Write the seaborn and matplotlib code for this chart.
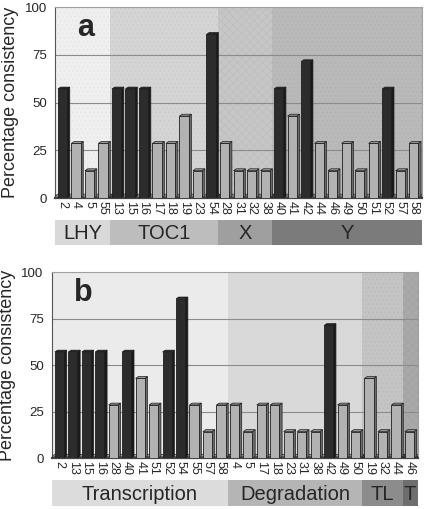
import matplotlib
matplotlib.use("Agg")
import matplotlib.pyplot as plt
from matplotlib.patches import Polygon
from matplotlib.colors import to_rgb
import numpy as np
import pandas as pd
import seaborn as sns

# panel a: genes grouped by target
genes_a = ["2", "4", "5", "55", "13", "15", "16", "17", "18", "19", "23", "54",
           "28", "31", "32", "38", "40", "41", "42", "44", "46", "49", "50",
           "51", "52", "57", "58"]
pct_a = [57.1, 28.6, 14.3, 28.6, 57.1, 57.1, 57.1, 28.6, 28.6, 42.9, 14.3, 85.7,
         28.6, 14.3, 14.3, 14.3, 57.1, 42.9, 71.4, 28.6, 14.3, 28.6, 14.3,
         28.6, 57.1, 14.3, 28.6]
groups_a = ["LHY", "TOC1", "X", "Y"]
sizes_a = [4, 8, 4, 11]

# panel b: genes grouped by process
genes_b = ["2", "13", "15", "16", "28", "40", "41", "51", "52", "54", "55", "57",
           "58", "4", "5", "17", "18", "23", "31", "38", "42", "49", "50",
           "19", "32", "44", "46"]
pct_b = [57.1, 57.1, 57.1, 57.1, 28.6, 57.1, 42.9, 28.6, 57.1, 85.7, 28.6, 14.3,
         28.6, 28.6, 14.3, 28.6, 28.6, 14.3, 14.3, 14.3, 71.4, 28.6, 14.3,
         42.9, 14.3, 28.6, 14.3]
groups_b = ["Transcription", "Degradation", "TL", "T"]
sizes_b = [13, 10, 3, 1]

sns.set_style("white")
plt.rcParams["font.family"] = ["Liberation Sans", "DejaVu Sans"]
plt.rcParams["hatch.linewidth"] = 0.4

BAR_PAL = {"high": "#2c2c2c", "low": "#b2b2b2"}


def shade(c, f):
    r, g, b = to_rgb(c)
    return (r * f, g * f, b * f)


def draw_panel(ax, strip, genes, pct, groups, sizes, bg, bg_hatch, strip_cols, letter):
    n = len(genes)
    xlim = (-0.55, n - 0.4)
    bounds = np.cumsum([0] + sizes) - 0.5
    bounds[0], bounds[-1] = xlim
    for i in range(len(groups)):
        ax.axvspan(bounds[i], bounds[i + 1], facecolor=bg[i], edgecolor=shade(bg[i], 0.95),
                   hatch=bg_hatch[i], lw=0, zorder=0)
    for v in [25, 50, 75]:
        ax.axhline(v, color="#8c8c8c", lw=0.8, zorder=1)

    df = pd.DataFrame({"gene": genes, "pct": pct,
                       "level": ["high" if v > 50 else "low" for v in pct]})
    sns.barplot(data=df, x="gene", y="pct", hue="level", palette=BAR_PAL, dodge=False,
                width=0.68, edgecolor="#1e1e1e", linewidth=0.6, legend=False,
                ax=ax, zorder=3)
    # fake 3D side and top faces, taken from the drawn bars
    dx, dy = 0.2, 1.0
    for p in list(ax.patches):
        h = p.get_height()
        if not h or np.isnan(h):
            continue
        x0, w = p.get_x(), p.get_width()
        fc = p.get_facecolor()
        side = Polygon([(x0 + w, 0), (x0 + w + dx, dy), (x0 + w + dx, h + dy), (x0 + w, h)],
                       closed=True, facecolor=shade(fc[:3], 0.6), edgecolor="#1e1e1e",
                       lw=0.5, zorder=2.9)
        top = Polygon([(x0, h), (x0 + dx, h + dy), (x0 + w + dx, h + dy), (x0 + w, h)],
                      closed=True, facecolor=shade(fc[:3], 0.85), edgecolor="#1e1e1e",
                      lw=0.5, zorder=2.9)
        ax.add_patch(side)
        ax.add_patch(top)

    ax.set_xlim(*xlim)
    ax.set_ylim(0, 100)
    ax.set_yticks([0, 25, 50, 75, 100])
    ax.tick_params(axis="y", labelsize=9.5, length=4, width=0.8, color="#555555", pad=2)
    ax.tick_params(axis="x", labelsize=9, length=0, pad=2)
    plt.setp(ax.get_xticklabels(), rotation=270, va="top", ha="center")
    ax.set_xlabel("")
    ax.set_ylabel("Percentage consistency", fontsize=13)
    ax.yaxis.set_label_coords(-0.098, 0.5)
    for s in ["top", "right"]:
        ax.spines[s].set_color("#a0a0a0")
        ax.spines[s].set_linewidth(0.8)
    ax.spines["left"].set_color("#555555")
    ax.spines["bottom"].set_color("#444444")
    ax.spines["bottom"].set_linewidth(1.6)
    ax.text(0.06, 0.89, letter, transform=ax.transAxes, fontsize=22, fontweight="bold",
            va="center", ha="left", zorder=5)

    strip.set_xlim(*xlim)
    strip.set_ylim(0, 1)
    for i, name in enumerate(groups):
        strip.axvspan(bounds[i], bounds[i + 1], facecolor=strip_cols[i], lw=0)
        strip.text((bounds[i] + bounds[i + 1]) / 2, 0.45, name, ha="center", va="center",
                   fontsize=14.5)
    strip.axis("off")


fig = plt.figure(figsize=(4.3, 5.09), dpi=100)
ax_a = fig.add_axes([0.128, 0.611, 0.853, 0.375])
strip_a = fig.add_axes([0.128, 0.519, 0.853, 0.049])
ax_b = fig.add_axes([0.121, 0.100, 0.850, 0.365])
strip_b = fig.add_axes([0.121, 0.006, 0.850, 0.051])

draw_panel(ax_a, strip_a, genes_a, pct_a, groups_a, sizes_a,
           ["#efefef", "#d4d4d4", "#c6c6c6", "#b9b9b9"], ["....", "....", "xxxx", "...."],
           ["#d9d9d9", "#bdbdbd", "#9f9f9f", "#7b7b7b"], "a")
draw_panel(ax_b, strip_b, genes_b, pct_b, groups_b, sizes_b,
           ["#ebebeb", "#d9d9d9", "#c4c4c4", "#a9a9a9"], ["", "", "....", "xxxx"],
           ["#dcdcdc", "#b5b5b5", "#8c8c8c", "#6e6e6e"], "b")

fig.savefig("out.png", dpi=100)
